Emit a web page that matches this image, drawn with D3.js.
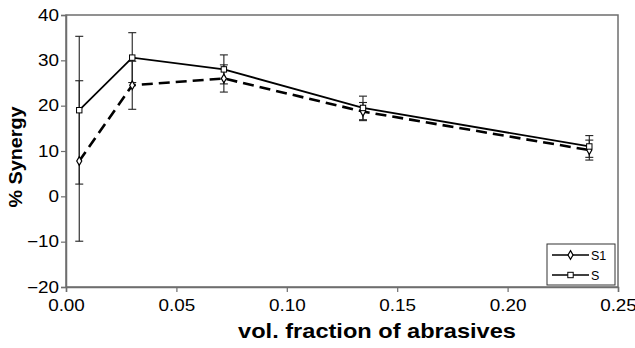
<!DOCTYPE html>
<html>
<head>
<meta charset="utf-8">
<script src="https://cdn.jsdelivr.net/npm/d3@7"></script>
<style>
  body { margin: 0; background: #fff; }
  text { font-family: "Liberation Sans", Arial, sans-serif; fill: #000; }
</style>
</head>
<body>
<div class="chart"></div>
<script>
var xValues = [0.006, 0.030, 0.0715, 0.1345, 0.237];
var sValues = [19.0, 30.6, 28.0, 19.5, 11.0];
var sErrors = [16.3, 5.5, 3.2, 2.6, 2.4];
var s1Values = [7.8, 24.5, 26.0, 18.7, 10.2];
var s1Errors = [17.7, 5.3, 3.0, 2.0, 2.2];
var xTicks = [0, 0.05, 0.10, 0.15, 0.20, 0.25];
var yTicks = [-20, -10, 0, 10, 20, 30, 40];

var width = 635, height = 348;
var margin = { top: 15, right: 17, bottom: 61, left: 66 };

var svg = d3.select('.chart')
  .append('svg')
  .attr('width', width)
  .attr('height', height);

var xScale = d3.scaleLinear()
  .domain([0, 0.25])
  .range([margin.left, width - margin.right]);

var yScale = d3.scaleLinear()
  .domain([-20, 40])
  .range([height - margin.bottom, margin.top]);

// frame
svg.append('rect')
  .attr('x', margin.left)
  .attr('y', margin.top)
  .attr('width', width - margin.left - margin.right)
  .attr('height', height - margin.top - margin.bottom)
  .attr('fill', 'none')
  .attr('stroke', '#6e6e6e')
  .attr('stroke-width', 1.5);

var xAxis = svg.append('g')
  .attr('transform', `translate(0, ${height - margin.bottom})`)
  .call(d3.axisBottom(xScale).tickValues(xTicks).tickFormat(d3.format('.2f')).tickSize(5).tickPadding(8));

var yAxis = svg.append('g')
  .attr('transform', `translate(${margin.left}, 0)`)
  .call(d3.axisLeft(yScale).tickValues(yTicks).tickSize(5).tickPadding(1));

[xAxis, yAxis].forEach(g => {
  g.select('.domain').attr('stroke', '#6e6e6e').attr('stroke-width', 1.5);
  g.selectAll('.tick line').attr('stroke', '#6e6e6e').attr('stroke-width', 1.2);
  g.selectAll('.tick text')
    .attr('font-size', 16)
    .attr('font-family', '"Liberation Sans", Arial, sans-serif')
    .attr('fill', '#111')
    .attr('transform', 'scale(1.18,1)');
});

svg.append('text')
  .attr('transform', 'translate(377, 338) scale(1.18,1)')
  .attr('text-anchor', 'middle')
  .attr('font-size', 20)
  .attr('font-weight', 'bold')
  .text('vol. fraction of abrasives');

svg.append('text')
  .attr('transform', 'translate(22, 157) rotate(-90) scale(1.04,1)')
  .attr('text-anchor', 'middle')
  .attr('font-size', 19)
  .attr('font-weight', 'bold')
  .text('% Synergy');

var series = [
  { name: 'S1', values: s1Values, errors: s1Errors, dash: '11,6', width: 2.6, marker: 'diamond' },
  { name: 'S', values: sValues, errors: sErrors, dash: null, width: 1.8, marker: 'square' }
];

var line = d3.line()
  .x((d, i) => xScale(xValues[i]))
  .y(d => yScale(d));

// error bars
series.forEach(s => {
  var g = svg.append('g').attr('stroke', '#222').attr('stroke-width', 1.1);
  s.values.forEach((v, i) => {
    var x = xScale(xValues[i]);
    var y1 = yScale(v + s.errors[i]), y2 = yScale(v - s.errors[i]);
    g.append('line').attr('x1', x).attr('x2', x).attr('y1', y1).attr('y2', y2);
    g.append('line').attr('x1', x - 4).attr('x2', x + 4).attr('y1', y1).attr('y2', y1);
    g.append('line').attr('x1', x - 4).attr('x2', x + 4).attr('y1', y2).attr('y2', y2);
  });
});

function drawMarker(g, type, x, y) {
  if (type === 'diamond') {
    g.append('path')
      .attr('d', d3.symbol(d3.symbolDiamond, 22)())
      .attr('transform', `translate(${x},${y})`)
      .attr('fill', '#fff').attr('stroke', '#000').attr('stroke-width', 1.2);
  } else {
    g.append('rect')
      .attr('x', x - 2.7).attr('y', y - 2.7).attr('width', 5.4).attr('height', 5.4)
      .attr('fill', '#fff').attr('stroke', '#000').attr('stroke-width', 1);
  }
}

series.forEach(s => {
  svg.append('path')
    .attr('d', line(s.values))
    .attr('fill', 'none')
    .attr('stroke', '#000')
    .attr('stroke-width', s.width)
    .attr('stroke-dasharray', s.dash);
  var g = svg.append('g');
  s.values.forEach((v, i) => drawMarker(g, s.marker, xScale(xValues[i]), yScale(v)));
});

// legend
var legend = svg.append('g');
legend.append('rect')
  .attr('x', 547).attr('y', 244).attr('width', 68).attr('height', 41)
  .attr('fill', '#fff').attr('stroke', '#333').attr('stroke-width', 1);
series.forEach((s, i) => {
  var y = 255 + i * 20;
  legend.append('line')
    .attr('x1', 552).attr('x2', 589).attr('y1', y).attr('y2', y)
    .attr('stroke', '#000').attr('stroke-width', 1.4);
  drawMarker(legend, s.marker, 570.5, y);
  legend.append('text')
    .attr('x', 591).attr('y', y + 4.5)
    .attr('font-size', 12.5)
    .text(s.name);
});
</script>
</body>
</html>
